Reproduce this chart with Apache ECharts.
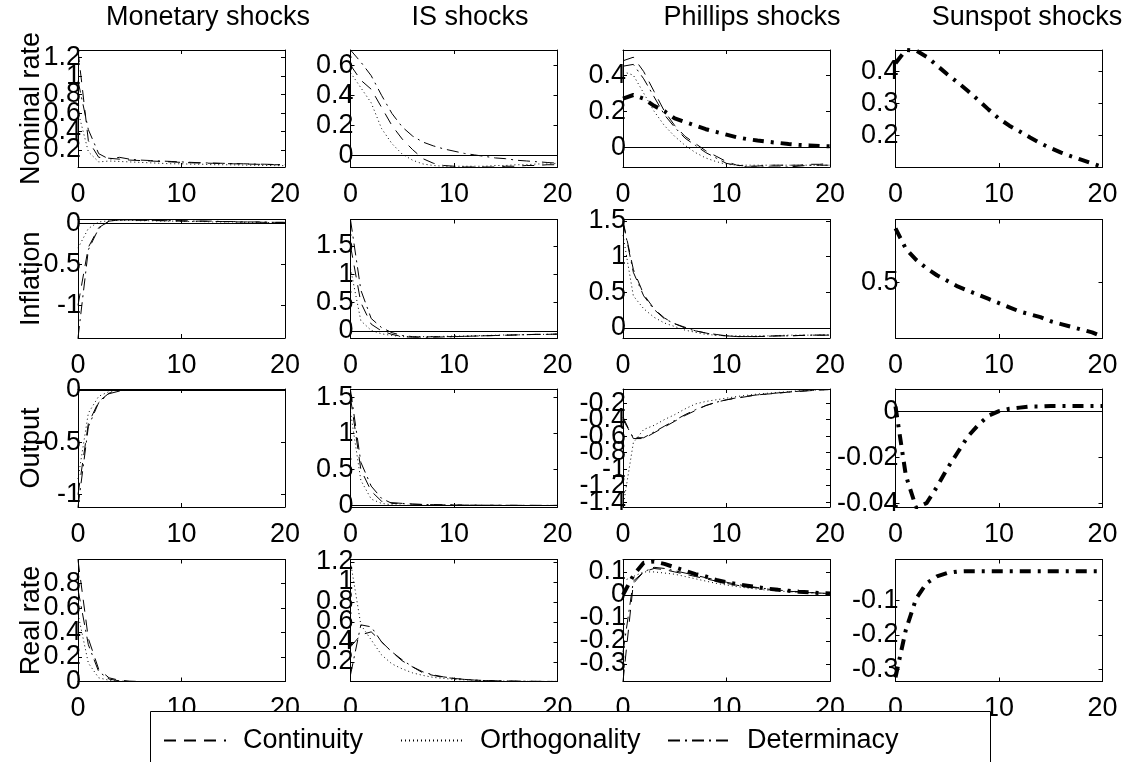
<!DOCTYPE html>
<html>
<head>
<meta charset="utf-8">
<script src="https://cdn.jsdelivr.net/npm/echarts@6/dist/echarts.min.js"></script>
<style>html,body{margin:0;padding:0;background:#fff}#c{width:1147px;height:762px}</style>
</head>
<body>
<div id="c"></div>
<script>
// ---- data ----
const steps = [0,1,2,3,4,5,6,7,8,9,10,11,12,13,14,15,16,17,18,19,20];
const xTicks = [0, 10, 20];
const colTitles = ['Monetary shocks', 'IS shocks', 'Phillips shocks', 'Sunspot shocks'];
const rowTitles = ['Nominal rate', 'Inflation', 'Output', 'Real rate'];
const seriesNames = ['Continuity', 'Orthogonality', 'Determinacy'];

// Nominal rate
const nomMonCont = [1.28,0.30,0.12,0.11,0.10,0.09,0.085,0.08,0.075,0.07,0.065,0.06,0.058,0.055,0.052,0.05,0.048,0.045,0.043,0.04,0.038];
const nomMonOrth = [0.62,0.18,0.07,0.08,0.075,0.07,0.065,0.06,0.055,0.05,0.05,0.045,0.045,0.04,0.04,0.038,0.036,0.034,0.032,0.03,0.03];
const nomMonDet  = [0.95,0.42,0.16,0.10,0.12,0.10,0.09,0.085,0.08,0.075,0.07,0.065,0.06,0.058,0.055,0.052,0.05,0.047,0.045,0.042,0.04];
const nomIsCont = [0.60,0.50,0.44,0.32,0.20,0.11,0.04,-0.02,-0.05,-0.065,-0.07,-0.075,-0.075,-0.075,-0.075,-0.07,-0.07,-0.065,-0.065,-0.06,-0.06];
const nomIsOrth = [0.55,0.45,0.35,0.18,0.08,0.01,-0.03,-0.055,-0.065,-0.07,-0.07,-0.07,-0.07,-0.07,-0.065,-0.065,-0.06,-0.06,-0.055,-0.055,-0.05];
const nomIsDet  = [0.70,0.62,0.53,0.40,0.28,0.19,0.13,0.09,0.065,0.045,0.03,0.015,0.005,-0.005,-0.015,-0.02,-0.03,-0.035,-0.04,-0.045,-0.05];
const nomPhCont = [0.48,0.50,0.42,0.31,0.20,0.12,0.06,0.02,-0.02,-0.05,-0.08,-0.10,-0.105,-0.105,-0.10,-0.10,-0.10,-0.10,-0.095,-0.095,-0.09];
const nomPhOrth = [0.42,0.40,0.30,0.20,0.12,0.06,0.01,-0.03,-0.06,-0.08,-0.095,-0.10,-0.10,-0.10,-0.10,-0.10,-0.10,-0.10,-0.10,-0.10,-0.10];
const nomPhDet  = [0.45,0.46,0.38,0.28,0.18,0.11,0.05,0.01,-0.03,-0.06,-0.09,-0.10,-0.11,-0.11,-0.11,-0.11,-0.11,-0.105,-0.10,-0.10,-0.10];
const nomPhThick = [0.27,0.29,0.27,0.23,0.20,0.16,0.14,0.12,0.10,0.085,0.07,0.055,0.045,0.037,0.03,0.024,0.018,0.013,0.01,0.007,0.005];
const nomSunThick = [0.425,0.466,0.464,0.445,0.418,0.39,0.365,0.338,0.31,0.28,0.252,0.23,0.212,0.193,0.175,0.16,0.146,0.134,0.123,0.112,0.101];

// Inflation
const infMonCont = [-1.0,-0.29,-0.05,0.03,0.045,0.045,0.04,0.04,0.035,0.035,0.03,0.03,0.03,0.025,0.025,0.02,0.02,0.02,0.015,0.015,0.015];
const infMonOrth = [-0.30,-0.06,0.02,0.035,0.04,0.04,0.035,0.035,0.03,0.03,0.03,0.025,0.025,0.02,0.02,0.02,0.015,0.015,0.015,0.01,0.01];
const infMonDet  = [-1.40,-0.32,-0.06,0.03,0.045,0.045,0.045,0.04,0.04,0.035,0.035,0.03,0.03,0.03,0.025,0.025,0.02,0.02,0.02,0.015,0.015];
const infIsCont = [1.50,0.50,0.12,0.0,-0.06,-0.10,-0.11,-0.11,-0.10,-0.10,-0.10,-0.095,-0.09,-0.085,-0.08,-0.075,-0.07,-0.065,-0.06,-0.06,-0.055];
const infIsOrth = [1.10,0.18,0.01,-0.05,-0.08,-0.10,-0.10,-0.10,-0.10,-0.095,-0.09,-0.09,-0.085,-0.08,-0.075,-0.07,-0.07,-0.065,-0.06,-0.06,-0.055];
const infIsDet  = [1.96,0.72,0.22,0.06,-0.03,-0.08,-0.10,-0.11,-0.11,-0.105,-0.10,-0.095,-0.09,-0.085,-0.08,-0.075,-0.07,-0.065,-0.06,-0.06,-0.055];
const infPhCont = [1.50,0.82,0.47,0.27,0.14,0.06,0.01,-0.04,-0.07,-0.09,-0.11,-0.12,-0.12,-0.12,-0.115,-0.11,-0.11,-0.105,-0.10,-0.10,-0.10];
const infPhOrth = [1.30,0.45,0.27,0.15,0.07,0.02,-0.03,-0.06,-0.09,-0.10,-0.11,-0.11,-0.11,-0.11,-0.11,-0.105,-0.10,-0.10,-0.10,-0.095,-0.095];
const infPhDet  = [1.49,0.78,0.45,0.26,0.13,0.06,0.0,-0.04,-0.07,-0.10,-0.11,-0.12,-0.12,-0.12,-0.115,-0.11,-0.11,-0.105,-0.10,-0.10,-0.10];
const infSunThick = [0.886,0.74,0.66,0.60,0.55,0.51,0.47,0.44,0.41,0.38,0.35,0.32,0.29,0.27,0.25,0.22,0.20,0.18,0.16,0.14,0.11];

// Output
const outMonCont = [-1.0,-0.32,-0.11,-0.03,-0.005,0,0,0,0,0,0,0,0,0,0,0,0,0,0,0,0];
const outMonOrth = [-0.85,-0.22,-0.06,-0.015,0,0,0,0,0,0,0,0,0,0,0,0,0,0,0,0,0];
const outMonDet  = [-1.118,-0.35,-0.12,-0.035,-0.01,0,0,0,0,0,0,0,0,0,0,0,0,0,0,0,0];
const outIsCont = [1.50,0.50,0.20,0.06,0.04,0.03,0.02,0.015,0.012,0.01,0.008,0.007,0.006,0.005,0.004,0.004,0.003,0.003,0.002,0.002,0.002];
const outIsOrth = [1.30,0.35,0.09,0.03,0.01,0.005,0.003,0.002,0.002,0.001,0.001,0.001,0.001,0.001,0.001,0.001,0.001,0.001,0.001,0.001,0.001];
const outIsDet  = [1.60,0.60,0.27,0.10,0.03,0.03,0.02,0.015,0.012,0.01,0.008,0.007,0.006,0.005,0.004,0.004,0.003,0.003,0.002,0.002,0.002];
const outPhCont = [-0.37,-0.63,-0.63,-0.56,-0.49,-0.42,-0.35,-0.29,-0.23,-0.19,-0.16,-0.14,-0.12,-0.10,-0.09,-0.08,-0.066,-0.058,-0.05,-0.04,-0.035];
const outPhOrth = [-1.46,-0.68,-0.52,-0.47,-0.40,-0.34,-0.27,-0.21,-0.18,-0.16,-0.14,-0.12,-0.105,-0.09,-0.08,-0.07,-0.06,-0.05,-0.045,-0.04,-0.035];
const outPhDet  = [-0.40,-0.62,-0.62,-0.55,-0.48,-0.41,-0.34,-0.28,-0.23,-0.19,-0.16,-0.135,-0.115,-0.10,-0.088,-0.076,-0.066,-0.056,-0.048,-0.04,-0.035];
const outSunThick = [0.002,-0.028,-0.042,-0.040,-0.033,-0.025,-0.018,-0.011,-0.006,-0.002,0.0,0.001,0.0015,0.002,0.002,0.0022,0.0022,0.0022,0.0022,0.0022,0.0022];

// Real rate
const rrMonCont = [0.99,0.35,0.10,0.03,0.01,0.003,0,0,0,0,0,0,0,0,0,0,0,0,0,0,0];
const rrMonOrth = [0.55,0.15,0.03,0.01,0.003,0,0,0,0,0,0,0,0,0,0,0,0,0,0,0,0];
const rrMonDet  = [0.75,0.30,0.08,0.02,0.005,0,0,0,0,0,0,0,0,0,0,0,0,0,0,0,0];
const rrIsCont = [0.35,0.47,0.50,0.40,0.30,0.21,0.15,0.09,0.065,0.045,0.035,0.025,0.018,0.014,0.011,0.009,0.007,0.006,0.005,0.005,0.004];
const rrIsOrth = [1.20,0.57,0.42,0.27,0.18,0.13,0.09,0.065,0.045,0.035,0.025,0.02,0.015,0.012,0.01,0.008,0.007,0.006,0.005,0.005,0.005];
const rrIsDet  = [0.07,0.57,0.55,0.40,0.30,0.22,0.15,0.10,0.07,0.05,0.035,0.025,0.018,0.013,0.01,0.008,0.007,0.006,0.005,0.005,0.004];
const rrPhCont = [-0.377,0.05,0.10,0.115,0.11,0.10,0.09,0.08,0.07,0.06,0.05,0.042,0.035,0.03,0.025,0.02,0.016,0.013,0.01,0.008,0.006];
const rrPhOrth = [0.06,0.08,0.10,0.10,0.095,0.09,0.08,0.07,0.06,0.05,0.043,0.036,0.03,0.025,0.02,0.017,0.014,0.011,0.009,0.007,0.005];
const rrPhDet  = [-0.25,0.06,0.10,0.12,0.115,0.105,0.095,0.085,0.075,0.065,0.055,0.046,0.038,0.032,0.026,0.021,0.017,0.014,0.011,0.008,0.006];
const rrPhThick = [0.0,0.085,0.14,0.145,0.135,0.12,0.105,0.09,0.08,0.065,0.055,0.047,0.04,0.033,0.027,0.022,0.018,0.014,0.011,0.008,0.006];
const rrSunThick = [-0.323,-0.185,-0.094,-0.05,-0.03,-0.02,-0.016,-0.015,-0.015,-0.015,-0.015,-0.015,-0.015,-0.015,-0.015,-0.015,-0.015,-0.015,-0.015,-0.015,-0.015];

// y tick labels per panel
const tkNomMon = [0.2,0.4,0.6,0.8,1,1.2];
const tkNomIs  = [0,0.2,0.4,0.6];
const tkNomPh  = [0,0.2,0.4];
const tkNomSun = [0.2,0.3,0.4];
const tkInfMon = [-1,-0.5,0];
const tkInfIs  = [0,0.5,1,1.5];
const tkInfPh  = [0,0.5,1,1.5];
const tkInfSun = [0.5];
const tkOutMon = [-1,-0.5,0];
const tkOutIs  = [0,0.5,1,1.5];
const tkOutPh  = [-1.4,-1.2,-1,-0.8,-0.6,-0.4,-0.2];
const tkOutSun = [-0.04,-0.02,0];
const tkRrMon  = [0,0.2,0.4,0.6,0.8];
const tkRrIs   = [0.2,0.4,0.6,0.8,1,1.2];
const tkRrPh   = [-0.3,-0.2,-0.1,0,0.1];
const tkRrSun  = [-0.3,-0.2,-0.1];

// ---- panel setup ----
const panels = [
  {r:0,c:0,min:0.015,max:1.284,ticks:tkNomMon,lines:[nomMonCont,nomMonOrth,nomMonDet]},
  {r:0,c:1,min:-0.075,max:0.70,ticks:tkNomIs,lines:[nomIsCont,nomIsOrth,nomIsDet],zero:true},
  {r:0,c:2,min:-0.11,max:0.54,ticks:tkNomPh,lines:[nomPhCont,nomPhOrth,nomPhDet],thick:nomPhThick,zero:true},
  {r:0,c:3,min:0.101,max:0.466,ticks:tkNomSun,lines:[],thick:nomSunThick},
  {r:1,c:0,min:-1.40,max:0.05,ticks:tkInfMon,lines:[infMonCont,infMonOrth,infMonDet],zero:true},
  {r:1,c:1,min:-0.124,max:1.965,ticks:tkInfIs,lines:[infIsCont,infIsOrth,infIsDet],zero:true},
  {r:1,c:2,min:-0.14,max:1.52,ticks:tkInfPh,lines:[infPhCont,infPhOrth,infPhDet],zero:true},
  {r:1,c:3,min:0.10,max:0.95,ticks:tkInfSun,lines:[],thick:infSunThick},
  {r:2,c:0,min:-1.118,max:0.01,ticks:tkOutMon,lines:[outMonCont,outMonOrth,outMonDet],zero:true},
  {r:2,c:1,min:-0.02,max:1.617,ticks:tkOutIs,lines:[outIsCont,outIsOrth,outIsDet],zero:true},
  {r:2,c:2,min:-1.46,max:-0.029,ticks:tkOutPh,lines:[outPhCont,outPhOrth,outPhDet]},
  {r:2,c:3,min:-0.0417,max:0.0096,ticks:tkOutSun,lines:[],thick:outSunThick,zero:true},
  {r:3,c:0,min:0,max:0.995,ticks:tkRrMon,lines:[rrMonCont,rrMonOrth,rrMonDet]},
  {r:3,c:1,min:0.004,max:1.223,ticks:tkRrIs,lines:[rrIsCont,rrIsOrth,rrIsDet]},
  {r:3,c:2,min:-0.377,max:0.154,ticks:tkRrPh,lines:[rrPhCont,rrPhOrth,rrPhDet],thick:rrPhThick,zero:true},
  {r:3,c:3,min:-0.335,max:0.019,ticks:tkRrSun,lines:[],thick:rrSunThick}
];

const colLeft = [78, 350.5, 623, 895.5];
const panelW = 207;
const rowTop = [50, 219.5, 389, 559.5];
const rowH = [117, 118.5, 118, 122];
const titleX = [208, 470, 752, 1027];
const FONT = '"Liberation Sans", Arial, Helvetica, sans-serif';
const FS = 27;
const lineStyles = [
  {type:[12,8], width:1},
  {type:[1,3], width:1},
  {type:[12,5,2,5], width:1}
];
const thickStyle = {type:[11,7,3,7], width:4};
const fmt = v => String(+(+v).toFixed(6));

const grid = [], xAxis = [], yAxis = [], series = [], graphic = [];
const blk = {color:'#000', width:1};
const labelBase = {show:true, margin:-3, color:'#000', fontSize:FS, fontFamily:FONT, formatter:fmt,
  showMinLabel:true, showMaxLabel:true, hideOverlap:false};

panels.forEach((p, g) => {
  grid.push({left: colLeft[p.c], top: rowTop[p.r], width: panelW, height: rowH[p.r], containLabel:false});
  const xb = xAxis.length;
  xAxis.push({gridIndex:g, type:'value', min:0, max:20, interval:10, position:'bottom',
    axisLine:{show:true,onZero:false,lineStyle:blk},
    axisTick:{show:true,inside:true,length:4,lineStyle:blk, customValues:xTicks},
    axisLabel:{show:true,margin:14,color:'#000',fontSize:FS,fontFamily:FONT,customValues:xTicks,formatter:fmt,
      showMinLabel:true,showMaxLabel:true,hideOverlap:false},
    splitLine:{show:false}});
  xAxis.push({gridIndex:g, type:'value', min:0, max:20, interval:10, position:'top',
    axisLine:{show:true,onZero:false,lineStyle:blk},
    axisTick:{show:true,inside:true,length:4,lineStyle:blk, customValues:xTicks},
    axisLabel:{show:false}, splitLine:{show:false}});
  const even = p.ticks.filter((v,i) => i % 2 === 0);
  const odd = p.ticks.filter((v,i) => i % 2 === 1);
  const yl = yAxis.length;
  yAxis.push({gridIndex:g, type:'value', min:p.min, max:p.max, position:'left', offset:0,
    axisLine:{show:true,onZero:false,lineStyle:blk},
    axisTick:{show:true,inside:true,length:4,lineStyle:blk,customValues:p.ticks},
    axisLabel:Object.assign({}, labelBase, {customValues:even}),
    splitLine:{show:false}});
  if (odd.length) {
    yAxis.push({gridIndex:g, type:'value', min:p.min, max:p.max, position:'left', offset:0,
      axisLine:{show:false}, axisTick:{show:false},
      axisLabel:Object.assign({}, labelBase, {customValues:odd}),
      splitLine:{show:false}});
  }
  yAxis.push({gridIndex:g, type:'value', min:p.min, max:p.max, position:'right', offset:0,
    axisLine:{show:true,onZero:false,lineStyle:blk},
    axisTick:{show:true,inside:true,length:4,lineStyle:blk,customValues:p.ticks},
    axisLabel:{show:false}, splitLine:{show:false}});

  let first = true;
  const addSeries = (name, arr, ls, z) => {
    const s = {type:'line', name:name, xAxisIndex:xb, yAxisIndex:yl,
      data: steps.map((x,i) => [x, arr[i]]),
      symbol:'none', showSymbol:false, silent:true, z:z, clip:true,
      itemStyle:{color:'#000'},
      lineStyle:Object.assign({color:'#000', cap:'butt'}, ls)};
    if (first && p.zero) {
      s.markLine = {silent:true, symbol:'none', label:{show:false},
        lineStyle:{color:'#000', width:1, type:'solid'}, data:[{yAxis:0}], animation:false};
    }
    first = false;
    series.push(s);
  };
  p.lines.forEach((arr, k) => addSeries(seriesNames[k], arr, lineStyles[k], 3));
  if (p.thick) addSeries('Sunspot', p.thick, thickStyle, 4);
});

// column titles
colTitles.forEach((t, c) => {
  graphic.push({type:'text', x: titleX[c], y: 18,
    style:{text:t, font: FS + 'px ' + FONT, fill:'#000', textAlign:'center', textVerticalAlign:'middle'}});
});
// row titles
rowTitles.forEach((t, r) => {
  graphic.push({type:'text', x: 32, y: rowTop[r] + rowH[r]/2, rotation: Math.PI/2,
    style:{text:t, font: FS + 'px ' + FONT, fill:'#000', textAlign:'center', textVerticalAlign:'middle'}});
});
// legend frame (drawn over the bottom tick labels, as in the figure)
graphic.push({type:'rect', z:50, shape:{x:150.5, y:711.5, width:840, height:80},
  style:{fill:'#fff', stroke:'#000', lineWidth:1}});

const legendBase = {orient:'horizontal', top:727, padding:0, itemWidth:62, itemHeight:24, z:60,
  itemStyle:{opacity:0, borderWidth:0, color:'rgba(0,0,0,0)'},
  textStyle:{color:'#000', fontSize:FS, fontFamily:FONT, padding:[0,0,0,12]}, selectedMode:false};
const legend = [
  Object.assign({}, legendBase, {left:163, data:['Continuity']}),
  Object.assign({}, legendBase, {left:400, data:['Orthogonality']}),
  Object.assign({}, legendBase, {left:667, data:['Determinacy']})
];

const chart = echarts.init(document.getElementById('c'), null, {renderer:'canvas'});
chart.setOption({backgroundColor:'#fff', animation:false, grid, xAxis, yAxis, series, graphic, legend});
</script>
</body>
</html>
